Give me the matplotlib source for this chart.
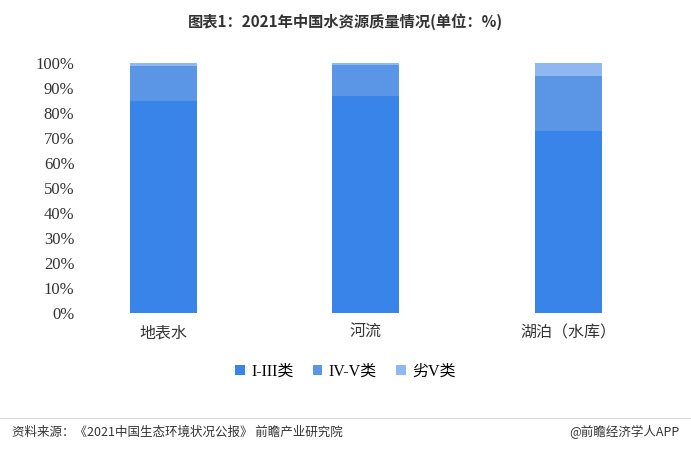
import matplotlib.pyplot as plt
import numpy as np

plt.rcParams['font.family'] = ['Noto Sans CJK SC', 'DejaVu Sans']
serif = ['Liberation Serif', 'Noto Sans CJK SC']

categories = ['地表水', '河流', '湖泊（水库）']
series_names = ['I-III类', 'IV-V类', '劣V类']
good = [84.9, 87.0, 72.9]
mid = [13.9, 12.1, 21.9]
bad = [1.2, 0.9, 5.2]
colors = ['#3884e8', '#5b96e6', '#8fb8f2']

fig = plt.figure(figsize=(6.91, 4.51), dpi=100)
ax = fig.add_axes([80 / 691, 1 - 313 / 451, 580 / 691, 255 / 451])

x = np.arange(len(categories))
w = 0.33
ax.bar(x, good, w, color=colors[0], label=series_names[0])
ax.bar(x, mid, w, bottom=good, color=colors[1], label=series_names[1])
ax.bar(x, bad, w, bottom=np.add(good, mid), color=colors[2], label=series_names[2])

ax.set_xlim(-0.41, 2.45)
ax.set_ylim(0, 102)
ax.set_yticks(range(0, 101, 10))
ax.set_yticklabels([f'{v}%' for v in range(0, 101, 10)], fontsize=12, color='#333333', family=serif)
ax.set_xticks(x)
ax.set_xticklabels(categories, fontsize=11.5, color='#333333')
for s in ['top', 'right', 'left', 'bottom']:
    ax.spines[s].set_visible(False)
ax.tick_params(axis='y', length=0, pad=4)
ax.tick_params(axis='x', length=0, pad=8)

fig.text(0.5, 1 - 22 / 451, '图表1：2021年中国水资源质量情况(单位：%)', ha='center', va='center',
         fontsize=11, fontweight='bold', color='#333333')
fig.legend(loc='center', bbox_to_anchor=(0.5, 1 - 372 / 451), ncol=3, frameon=False,
           prop={'family': serif, 'size': 11.5}, handlelength=0.6, handleheight=0.6,
           columnspacing=1.2, handletextpad=0.4)

fig.add_artist(plt.Line2D([0, 1], [1 - 418 / 451] * 2, color='#dddddd', lw=0.8))
fig.text(12 / 691, 1 - 432 / 451, '资料来源：《2021中国生态环境状况公报》 前瞻产业研究院', fontsize=9,
         color='#333333', va='center')
fig.text(679 / 691, 1 - 432 / 451, '@前瞻经济学人APP', fontsize=9, color='#333333', va='center', ha='right')

fig.savefig('out.png', dpi=100)
